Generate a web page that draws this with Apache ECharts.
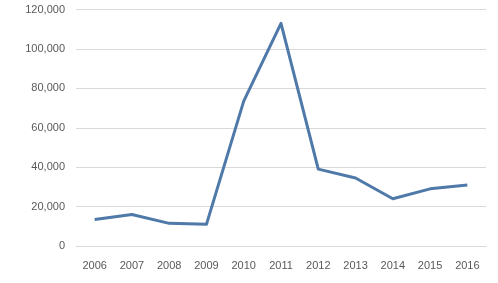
<!DOCTYPE html>
<html>
<head>
<meta charset="utf-8">
<script src="https://cdn.jsdelivr.net/npm/echarts@6/dist/echarts.min.js"></script>
<style>html,body{margin:0;padding:0;background:#fff;}#c{width:498px;height:283px;}</style>
</head>
<body>
<div id="c"></div>
<script>
const categories = ['2006','2007','2008','2009','2010','2011','2012','2013','2014','2015','2016'];
const values = [13500, 16000, 11500, 11000, 73500, 113000, 39000, 34500, 24000, 29000, 31000];

const chart = echarts.init(document.getElementById('c'), null, {renderer: 'canvas'});
chart.setOption({
  animation: false,
  backgroundColor: '#fff',
  grid: {left: 76, right: 12, top: 9.5, bottom: 37},
  xAxis: {
    type: 'category',
    data: categories,
    boundaryGap: true,
    axisLine: {show: true, lineStyle: {color: '#d9d9d9', width: 1}},
    axisTick: {show: false},
    axisLabel: {color: '#595959', fontFamily: 'Liberation Sans', fontSize: 11, margin: 14}
  },
  yAxis: {
    type: 'value',
    min: 0, max: 120000, interval: 20000,
    axisLine: {show: false},
    axisTick: {show: false},
    splitLine: {lineStyle: {color: '#d9d9d9', width: 1}},
    axisLabel: {
      color: '#595959', fontFamily: 'Liberation Sans', fontSize: 11, margin: 11,
      formatter: v => v.toLocaleString('en-US')
    }
  },
  series: [{
    type: 'line',
    data: values,
    symbol: 'none',
    lineStyle: {color: '#4f79a8', width: 3, join: 'round'},
    itemStyle: {color: '#4f79a8'}
  }]
});
</script>
</body>
</html>
